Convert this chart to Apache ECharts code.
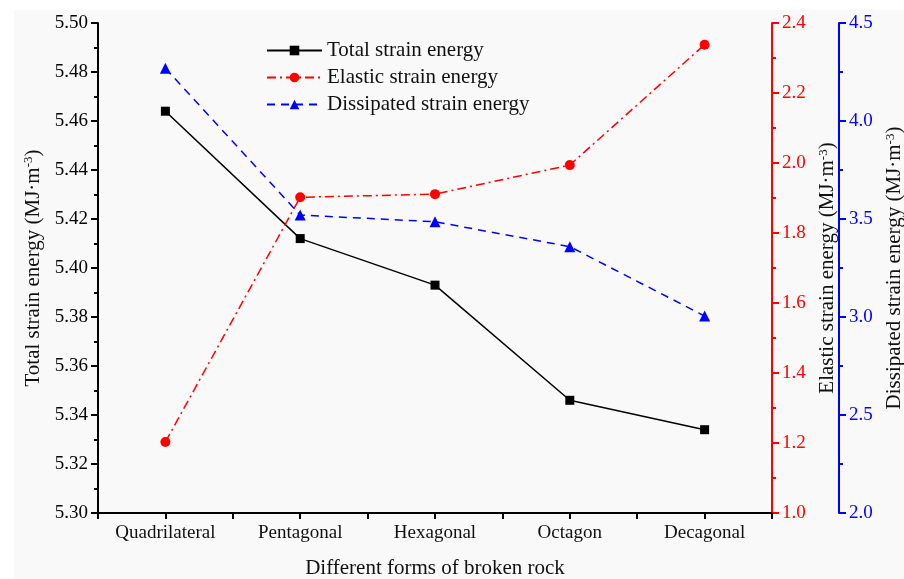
<!DOCTYPE html>
<html>
<head>
<meta charset="utf-8">
<script src="https://cdn.jsdelivr.net/npm/echarts@6/dist/echarts.min.js"></script>
<style>
  html, body { margin: 0; padding: 0; background: #ffffff; }
  #chart { width: 904px; height: 579px; }
</style>
</head>
<body>
<div id="chart"></div>
<script>
// Rock fragment shapes and the three strain-energy measures
const categories = ['Quadrilateral', 'Pentagonal', 'Hexagonal', 'Octagon', 'Decagonal'];
const totalEnergy = [5.464, 5.412, 5.393, 5.346, 5.334];
const elasticEnergy = [1.203, 1.902, 1.911, 1.994, 2.338];
const dissipatedEnergy = [4.269, 3.520, 3.486, 3.359, 3.005];

const FONT = '"Liberation Serif", "Times New Roman", serif';
const supRich = (color) => ({
  sup: { fontFamily: FONT, fontSize: 13, verticalAlign: 'top', color: color, padding: [0, 0, 9, 0] }
});

const pairs = (arr) => arr.map((v, i) => [i, v]);

const chart = echarts.init(document.getElementById('chart'));

function yAxisBase(color, min, max, interval, digits) {
  return {
    type: 'value',
    min: min,
    max: max,
    interval: interval,
    splitLine: { show: false },
    axisLine: { show: true, onZero: false, lineStyle: { color: color, width: 2 } },
    axisTick: { show: true, length: 7, lineStyle: { color: color, width: 2 } },
    minorTick: { show: true, splitNumber: 2, length: 4, lineStyle: { color: color, width: 2 } },
    axisLabel: {
      color: color, fontFamily: FONT, fontSize: 19, margin: 10,
      formatter: (v) => v.toFixed(digits)
    },
    nameLocation: 'middle',
    nameRotate: 90,
    nameTextStyle: { color: '#111', fontFamily: FONT, fontSize: 21, rich: supRich('#111') }
  };
}

const option = {
  backgroundColor: '#ffffff',
  animation: false,
  graphic: [{
    type: 'rect', z: -10, silent: true,
    shape: { x: 14, y: 10, width: 904, height: 579 },
    style: { fill: '#f9f9f9' }
  }],
  grid: { left: 98, right: 132, top: 23, bottom: 66, containLabel: false, outerBoundsMode: 'none' },
  legend: {
    orient: 'vertical',
    left: 261,
    top: 35,
    itemWidth: 55,
    itemHeight: 12,
    itemGap: 6,
    textStyle: { fontFamily: FONT, fontSize: 21, color: '#111' },
    data: ['Total strain energy', 'Elastic strain energy', 'Dissipated strain energy']
  },
  xAxis: {
    type: 'value',
    min: -0.5,
    max: 4.5,
    interval: 0.5,
    splitLine: { show: false },
    axisLine: { show: true, onZero: false, lineStyle: { color: '#000', width: 2 } },
    axisTick: { show: true, length: 6, lineStyle: { color: '#000', width: 2 } },
    axisLabel: {
      color: '#111', fontFamily: FONT, fontSize: 19, margin: 11,
      showMinLabel: true, showMaxLabel: true,
      formatter: (v) => Number.isInteger(v) && categories[v] !== undefined ? categories[v] : ''
    },
    name: 'Different forms of broken rock',
    nameLocation: 'middle',
    nameGap: 45,
    nameTextStyle: { color: '#111', fontFamily: FONT, fontSize: 21 }
  },
  yAxis: [
    Object.assign(yAxisBase('#000', 5.30, 5.50, 0.02, 2), {
      position: 'left',
      name: 'Total strain energy (MJ·m{sup|-3})',
      nameGap: 54
    }),
    Object.assign(yAxisBase('#ff0000', 1.0, 2.4, 0.2, 1), {
      position: 'right',
      name: 'Elastic strain energy (MJ·m{sup|-3})',
      nameGap: 40
    }),
    Object.assign(yAxisBase('#0000ff', 2.0, 4.5, 0.5, 1), {
      position: 'right',
      offset: 67,
      name: 'Dissipated strain energy (MJ·m{sup|-3})',
      nameGap: 40
    })
  ],
  series: [
    {
      name: 'Total strain energy',
      type: 'line',
      yAxisIndex: 0,
      data: pairs(totalEnergy),
      symbol: 'rect',
      symbolSize: 9,
      itemStyle: { color: '#000' },
      lineStyle: { color: '#000', width: 1.5, type: 'solid' }
    },
    {
      name: 'Elastic strain energy',
      type: 'line',
      yAxisIndex: 1,
      data: pairs(elasticEnergy),
      symbol: 'circle',
      symbolSize: 10,
      itemStyle: { color: '#ff0000' },
      lineStyle: { color: '#ff0000', width: 1.5, type: [9, 4, 2, 4] }
    },
    {
      name: 'Dissipated strain energy',
      type: 'line',
      yAxisIndex: 2,
      data: pairs(dissipatedEnergy),
      symbol: 'triangle',
      symbolSize: 11,
      itemStyle: { color: '#0000ff' },
      lineStyle: { color: '#0000ff', width: 1.5, type: [8, 6] }
    }
  ]
};

chart.setOption(option);
</script>
</body>
</html>
